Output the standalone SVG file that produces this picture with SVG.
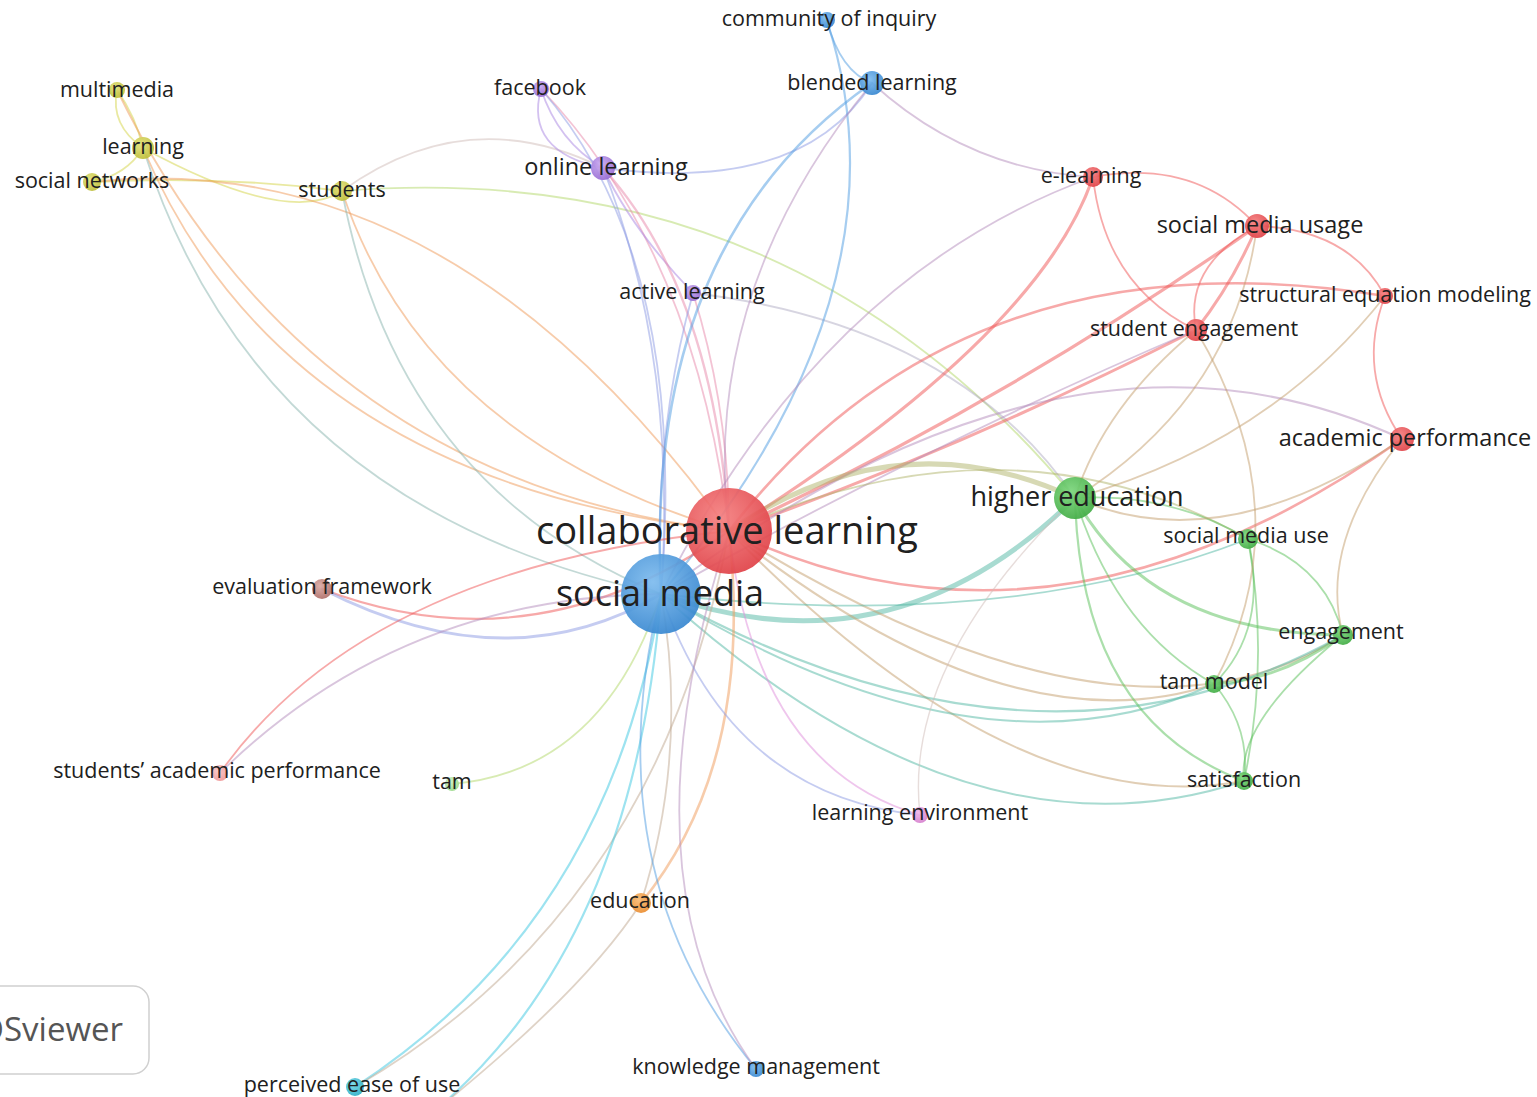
<svg xmlns="http://www.w3.org/2000/svg" width="1537" height="1097" viewBox="0 0 1537 1097">
<defs>
  <radialGradient id="gRed" cx="0.4" cy="0.35" r="0.7"><stop offset="0" stop-color="#f58080"/><stop offset="1" stop-color="#df3f45"/></radialGradient>
  <radialGradient id="gBlue" cx="0.4" cy="0.35" r="0.7"><stop offset="0" stop-color="#7dbbee"/><stop offset="1" stop-color="#3585cf"/></radialGradient>
  <radialGradient id="gGreen" cx="0.4" cy="0.35" r="0.7"><stop offset="0" stop-color="#7cd67c"/><stop offset="1" stop-color="#3faa42"/></radialGradient>
  <radialGradient id="gYellow" cx="0.4" cy="0.35" r="0.7"><stop offset="0" stop-color="#e2e27a"/><stop offset="1" stop-color="#bcbc36"/></radialGradient>
  <radialGradient id="gPurple" cx="0.4" cy="0.35" r="0.7"><stop offset="0" stop-color="#c9aaf0"/><stop offset="1" stop-color="#9468d2"/></radialGradient>
  <radialGradient id="gCyan" cx="0.4" cy="0.35" r="0.7"><stop offset="0" stop-color="#74d8e8"/><stop offset="1" stop-color="#2badc4"/></radialGradient>
  <radialGradient id="gOrange" cx="0.4" cy="0.35" r="0.7"><stop offset="0" stop-color="#f7bb74"/><stop offset="1" stop-color="#ea8a2c"/></radialGradient>
  <radialGradient id="gBrown" cx="0.4" cy="0.35" r="0.7"><stop offset="0" stop-color="#dba8a2"/><stop offset="1" stop-color="#ad6c66"/></radialGradient>
  <radialGradient id="gMagenta" cx="0.4" cy="0.35" r="0.7"><stop offset="0" stop-color="#f0b8ea"/><stop offset="1" stop-color="#d47ccc"/></radialGradient>
  <radialGradient id="gPink" cx="0.4" cy="0.35" r="0.7"><stop offset="0" stop-color="#fac8c8"/><stop offset="1" stop-color="#ef9696"/></radialGradient>
  <radialGradient id="gLime" cx="0.4" cy="0.35" r="0.7"><stop offset="0" stop-color="#cdf0c2"/><stop offset="1" stop-color="#98d888"/></radialGradient>
</defs>
<style>
  .e{fill:none;stroke-linecap:round;stroke-opacity:.5;stroke-width:1.8}
  .r{stroke:#f05454}
  .b{stroke:#4d9ce2}
  .g{stroke:#58c058}
  .y{stroke:#d4d444}
  .p{stroke:#a784e2}
  .o{stroke:#f09a58}
  .rb{stroke:#b48cbc}
  .rg{stroke:#c49e6c}
  .ol{stroke:#afb46a}
  .bg{stroke:#52b8a4}
  .by{stroke:#88b4ae}
  .rp{stroke:#e888aa}
  .bp{stroke:#8c9ae4}
  .gy{stroke:#b2d868}
  .c{stroke:#3cc8e2}
  .m{stroke:#e08edc}
  .tn{stroke:#c0a890}
  .pl{stroke:#d0bcb8}
  .pg{stroke:#b0acc4}
  .node circle{fill-opacity:.92}
  .lbl{font-family:"Open Sans","Noto Sans","Liberation Sans",sans-serif;fill:#202020;text-anchor:middle;font-size:21.5px}
</style>
<rect width="1537" height="1097" fill="#ffffff"/>

<g id="connectors">
  <!-- yellow cluster -->
  <path class="e y" d="M92 182 Q223 175.5 342 191"/>
  <path class="e y" d="M143 148 Q126.5 175 92 182"/>
  <path class="e y" d="M117 90 Q110 125 143 148"/>
  <path class="e y" d="M117 90 Q136 117 143 148"/>
  <path class="e y" d="M143 148 Q287.5 226.5 342 191"/>
  <path class="e pl" d="M342 191 Q467.5 100.5 603 168"/>
  <path class="e gy" d="M342 191 Q791.5 155.5 1075 498"/>
  <path class="e o" d="M92 182 Q449.5 143.5 729 531"/>
  <path class="e o" d="M143 148 Q284 480.5 729 531"/>
  <path class="e o" d="M117 90 Q307 479.5 729 531"/>
  <path class="e by" d="M143 148 Q258 509 661 594"/>
  <path class="e o" d="M342 191 Q424.5 439 729 531"/>
  <path class="e by" d="M342 191 Q398.5 487.5 661 594"/>
  <!-- purple cluster -->
  <path class="e p" d="M541 89 Q558 141.5 603 168"/>
  <path class="e p" d="M541 89 Q524 151.5 603 168"/>
  <path class="e rp" d="M541 89 Q695 250 729 531"/>
  <path class="e bp" d="M541 89 Q689 258.5 661 594"/>
  <path class="e p" d="M603 168 Q632 229.5 693 293"/>
  <path class="e rp" d="M603 168 Q714 290.5 729 531" style="stroke-width:2.4"/>
  <path class="e bp" d="M603 168 Q678 359 661 594"/>
  <path class="e rp" d="M693 293 Q729 408 729 531"/>
  <path class="e bp" d="M693 293 Q653 436.5 661 594"/>
  <path class="e pg" d="M693 293 Q956 324.5 1075 498"/>
  <path class="e bp" d="M603 168 Q802.5 194.5 872 83"/>
  <!-- blue cluster -->
  <path class="e rb" d="M872 83 Q967.5 170 1093 177"/>
  <path class="e b" d="M827 21 Q840.5 71.5 872 83"/>
  <path class="e b" d="M827 21 Q916 292 661 594" style="stroke-width:2.2"/>
  <path class="e b" d="M872 83 Q643.5 241.5 661 594" style="stroke-width:2.6"/>
  <path class="e rb" d="M872 83 Q699.5 293 729 531"/>
  <path class="e rb" d="M1093 177 Q823 274.5 661 594"/>
  <!-- red cluster to hubs -->
  <path class="e r" d="M1093 177 Q1039 336 729 531" style="stroke-width:3.2"/>
  <path class="e r" d="M1257 226 Q1007 402 729 531" style="stroke-width:3.2"/>
  <path class="e r" d="M1196 330 Q958 450 729 531" style="stroke-width:3"/>
  <path class="e rb" d="M1196 330 Q941.5 438 661 594"/>
  <path class="e r" d="M1385 296 Q963 227 729 531" style="stroke-width:2.6"/>
  <path class="e r" d="M1402 439 Q1055 685 729 531" style="stroke-width:2.6"/>
  <path class="e rb" d="M1402 439 Q1069 284 661 594" style="stroke-width:2"/>
  <!-- hubs to green cluster -->
  <path class="e ol" d="M729 531 Q898 416 1075 498" style="stroke-width:5"/>
  <path class="e ol" d="M729 531 Q1011.5 405 1248 539"/>
  <path class="e bg" d="M661 594 Q892 678 1075 498" style="stroke-width:5"/>
  <path class="e rg" d="M729 531 Q1124 777 1343 635" style="stroke-width:2.2"/>
  <path class="e rg" d="M729 531 Q1009 753 1214 684" style="stroke-width:2.2"/>
  <path class="e rg" d="M729 531 Q1014 824 1244 781" style="stroke-width:2"/>
  <path class="e bg" d="M661 594 Q1038 806 1343 635" style="stroke-width:2.2"/>
  <path class="e bg" d="M661 594 Q982 791 1214 684" style="stroke-width:2"/>
  <path class="e bg" d="M661 594 Q968 873 1244 781" style="stroke-width:2"/>
  <path class="e bg" d="M661 594 Q1005.5 633.5 1248 539"/>
  <!-- green cluster -->
  <path class="e g" d="M1075 498 Q1169 492 1248 539"/>
  <path class="e g" d="M1075 498 Q1151 634 1343 635" style="stroke-width:3"/>
  <path class="e g" d="M1075 498 Q1116 629 1214 684"/>
  <path class="e g" d="M1075 498 Q1081 720 1244 781" style="stroke-width:2.2"/>
  <path class="e g" d="M1248 539 Q1325 563 1343 635"/>
  <path class="e g" d="M1248 539 Q1269 629 1214 684"/>
  <path class="e g" d="M1248 539 Q1270 660 1244 781"/>
  <path class="e g" d="M1343 635 Q1281 680 1214 684" style="stroke-width:3"/>
  <path class="e g" d="M1343 635 Q1236 722 1244 781"/>
  <path class="e g" d="M1214 684 Q1251 727.5 1244 781"/>
  <!-- red cluster internal -->
  <path class="e r" d="M1093 177 Q1195 158 1257 226"/>
  <path class="e r" d="M1093 177 Q1105 286 1196 330"/>
  <path class="e r" d="M1257 226 Q1233.5 282 1196 330" style="stroke-width:3"/>
  <path class="e r" d="M1257 226 Q1183.5 266 1196 330"/>
  <path class="e r" d="M1257 226 Q1349 229 1385 296"/>
  <path class="e r" d="M1385 296 Q1356 372 1402 439"/>
  <path class="e rg" d="M1196 330 Q1305 513 1214 684"/>
  <path class="e rg" d="M1257 226 Q1234 398 1075 498"/>
  <path class="e rg" d="M1402 439 Q1222 562 1075 498" style="stroke-width:2"/>
  <path class="e rg" d="M1402 439 Q1318 543 1343 635"/>
  <path class="e rg" d="M1385 296 Q1270 443 1075 498"/>
  <path class="e rg" d="M1196 330 Q1104 406 1075 498"/>
  <!-- left and lower nodes -->
  <path class="e r" d="M322 589 Q534.5 670 729 531" style="stroke-width:2.2"/>
  <path class="e bp" d="M322 589 Q508.5 684.5 661 594" style="stroke-width:3"/>
  <path class="e r" d="M220 773 Q365.5 568 729 531"/>
  <path class="e rb" d="M220 773 Q399.5 596.5 661 594"/>
  <path class="e gy" d="M452 784 Q603.5 771 661 594"/>
  <path class="e o" d="M641 903 Q755 763 729 531" style="stroke-width:2.6"/>
  <path class="e tn" d="M641 903 Q689 751.5 661 594"/>
  <path class="e c" d="M355 1087 Q612 919.5 661 594" style="stroke-width:2.2"/>
  <path class="e tn" d="M355 1087 Q658 911 729 531"/>
  <path class="e c" d="M430 1115 Q634.5 945.5 661 594" style="stroke-width:2.2"/>
  <path class="e tn" d="M430 1115 Q584.5 991 641 903"/>
  <path class="e b" d="M756 1069 Q591.5 868.5 661 594"/>
  <path class="e rb" d="M756 1069 Q617.5 880 729 531"/>
  <path class="e m" d="M920 815 Q755.5 767 729 531"/>
  <path class="e bp" d="M920 815 Q729.5 795.5 661 594"/>
  <path class="e pl" d="M920 815 Q902.5 663.5 1075 498" style="stroke-width:1.4"/>
</g>

<g id="node-community-of-inquiry" class="node"><circle cx="827" cy="20" r="8" fill="url(#gBlue)"/><text class="lbl" x="829" y="26">community of inquiry</text></g>
<g id="node-blended-learning" class="node"><circle cx="872" cy="83" r="12" fill="url(#gBlue)"/><text class="lbl" x="872" y="90">blended learning</text></g>
<g id="node-multimedia" class="node"><circle cx="117" cy="90" r="8" fill="url(#gYellow)"/><text class="lbl" x="117" y="97">multimedia</text></g>
<g id="node-learning" class="node"><circle cx="143" cy="148" r="11" fill="url(#gYellow)"/><text class="lbl" x="143" y="154">learning</text></g>
<g id="node-social-networks" class="node"><circle cx="92" cy="182" r="9" fill="url(#gYellow)"/><text class="lbl" x="92" y="188">social networks</text></g>
<g id="node-students" class="node"><circle cx="342" cy="191" r="10" fill="url(#gYellow)"/><text class="lbl" x="342" y="197">students</text></g>
<g id="node-facebook" class="node"><circle cx="541" cy="89" r="8" fill="url(#gPurple)"/><text class="lbl" x="540" y="95">facebook</text></g>
<g id="node-online-learning" class="node"><circle cx="603" cy="168" r="12" fill="url(#gPurple)"/><text class="lbl" x="606" y="175" style="font-size:23.5px">online learning</text></g>
<g id="node-active-learning" class="node"><circle cx="693" cy="293" r="8" fill="url(#gPurple)"/><text class="lbl" x="692" y="299">active learning</text></g>
<g id="node-e-learning" class="node"><circle cx="1093" cy="177" r="10" fill="url(#gRed)"/><text class="lbl" x="1091" y="183">e-learning</text></g>
<g id="node-social-media-usage" class="node"><circle cx="1257" cy="226" r="12" fill="url(#gRed)"/><text class="lbl" x="1260" y="233" style="font-size:23.5px">social media usage</text></g>
<g id="node-structural-equation-modeling" class="node"><circle cx="1385" cy="296" r="8" fill="url(#gRed)"/><text class="lbl" x="1385" y="302">structural equation modeling</text></g>
<g id="node-student-engagement" class="node"><circle cx="1196" cy="330" r="11" fill="url(#gRed)"/><text class="lbl" x="1194" y="336">student engagement</text></g>
<g id="node-academic-performance" class="node"><circle cx="1402" cy="439" r="12" fill="url(#gRed)"/><text class="lbl" x="1405" y="446" style="font-size:23.5px">academic performance</text></g>
<g id="node-higher-education" class="node"><circle cx="1075" cy="498" r="21" fill="url(#gGreen)"/><text class="lbl" x="1077" y="506" style="font-size:27px">higher education</text></g>
<g id="node-social-media-use" class="node"><circle cx="1248" cy="539" r="10" fill="url(#gGreen)"/><text class="lbl" x="1246" y="543">social media use</text></g>
<g id="node-engagement" class="node"><circle cx="1343" cy="635" r="10" fill="url(#gGreen)"/><text class="lbl" x="1341" y="639">engagement</text></g>
<g id="node-tam-model" class="node"><circle cx="1214" cy="684" r="9" fill="url(#gGreen)"/><text class="lbl" x="1214" y="689">tam model</text></g>
<g id="node-satisfaction" class="node"><circle cx="1244" cy="781" r="9" fill="url(#gGreen)"/><text class="lbl" x="1244" y="787">satisfaction</text></g>
<g id="node-evaluation-framework" class="node"><circle cx="322" cy="589" r="10" fill="url(#gBrown)"/><text class="lbl" x="322" y="594">evaluation framework</text></g>
<g id="node-students-academic-performance" class="node"><circle cx="220" cy="773" r="8" fill="url(#gPink)"/><text class="lbl" x="217" y="778">students’ academic performance</text></g>
<g id="node-tam" class="node"><circle cx="452" cy="784" r="7" fill="url(#gLime)"/><text class="lbl" x="452" y="789">tam</text></g>
<g id="node-learning-environment" class="node"><circle cx="920" cy="815" r="8" fill="url(#gMagenta)"/><text class="lbl" x="920" y="820">learning environment</text></g>
<g id="node-education" class="node"><circle cx="641" cy="903" r="10" fill="url(#gOrange)"/><text class="lbl" x="640" y="908">education</text></g>
<g id="node-knowledge-management" class="node"><circle cx="756" cy="1069" r="8" fill="url(#gBlue)"/><text class="lbl" x="756" y="1074">knowledge management</text></g>
<g id="node-perceived-ease-of-use" class="node"><circle cx="355" cy="1087" r="9" fill="url(#gCyan)"/><text class="lbl" x="352" y="1092">perceived ease of use</text></g>
<g id="node-social-media" class="node"><circle cx="661" cy="594" r="40" fill="url(#gBlue)"/><text class="lbl" x="660" y="606" style="font-size:36px">social media</text></g>
<g id="node-collaborative-learning" class="node"><circle cx="729" cy="531" r="43" fill="url(#gRed)"/><text class="lbl" x="727" y="544" style="font-size:38px">collaborative learning</text></g>

<g id="logo">
  <rect x="-30" y="986" width="179" height="88" rx="16" fill="#ffffff" stroke="#d0d0d0" stroke-width="1.5"/>
  <text x="123" y="1041" text-anchor="end" style="font-family:'Open Sans','Noto Sans',sans-serif;font-size:33px;fill:#555555">VOSviewer</text>
</g>
</svg>
